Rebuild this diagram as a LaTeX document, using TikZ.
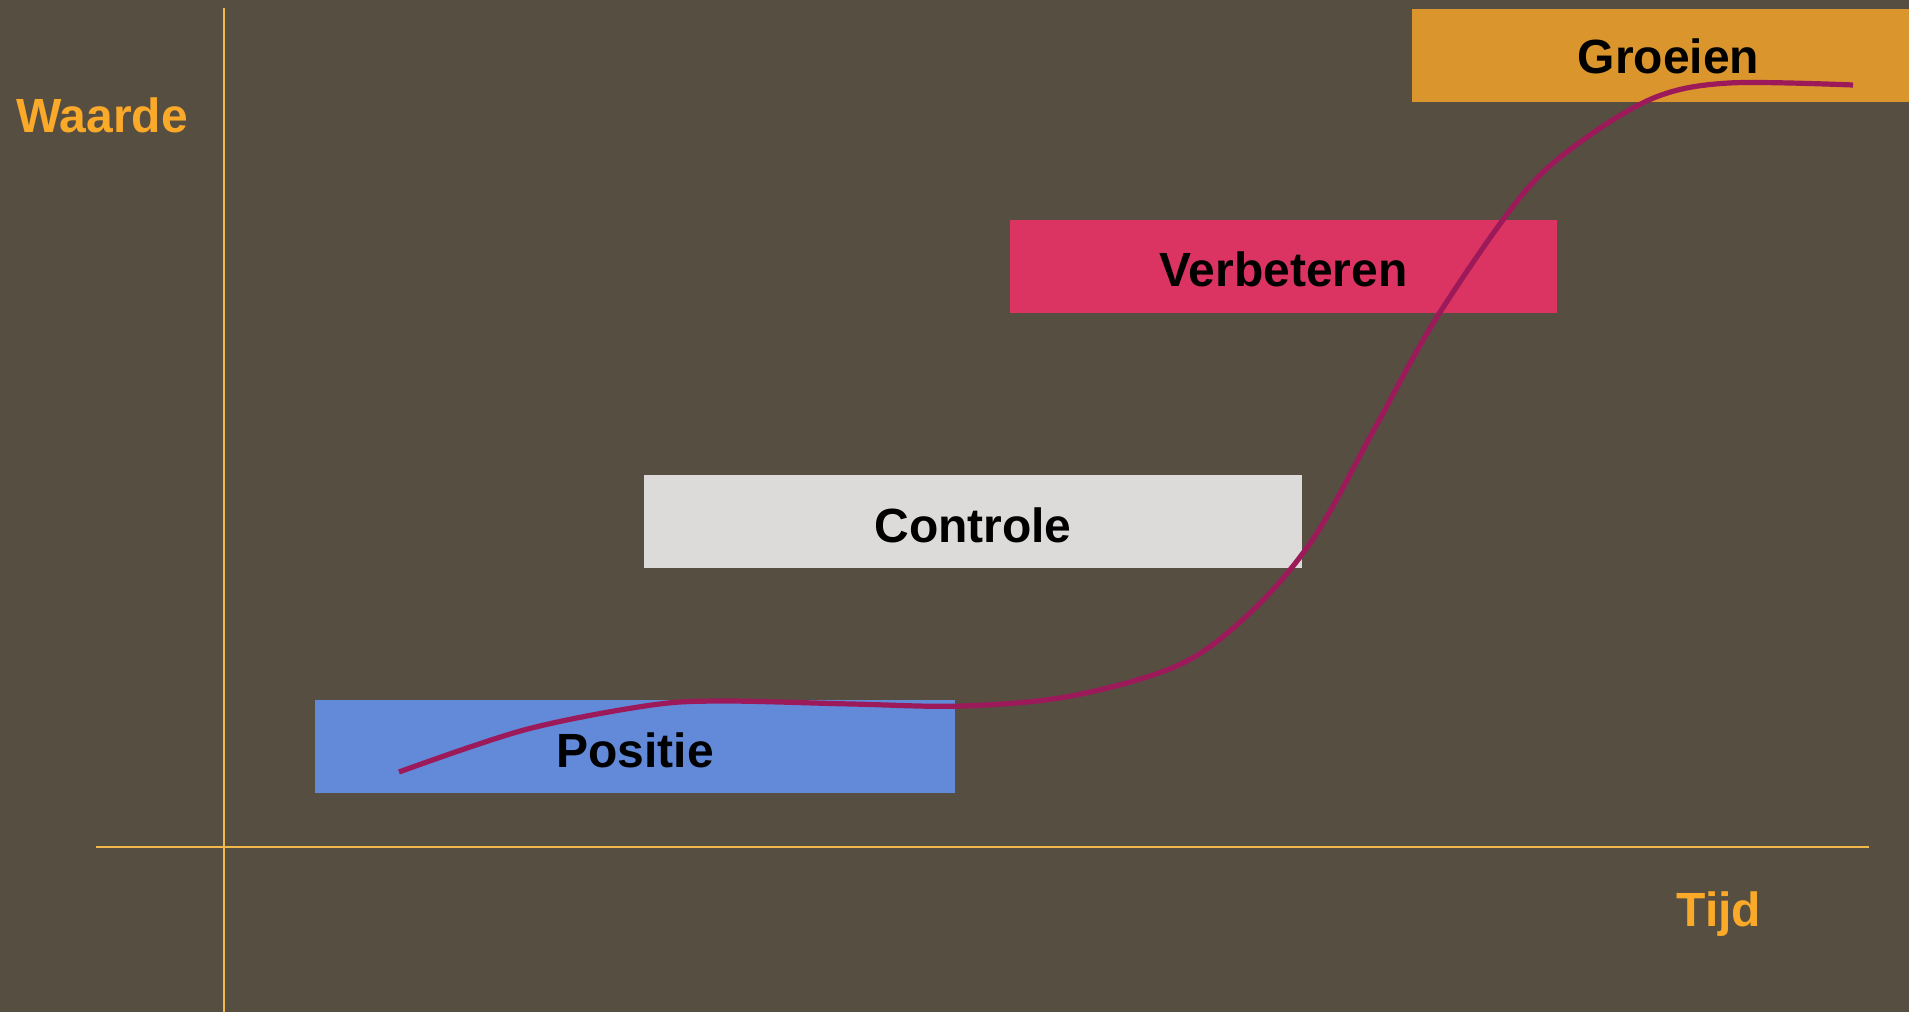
\documentclass[tikz,border=0pt]{standalone}
\usepackage{fontspec}
\setmainfont{Liberation Sans}
\definecolor{bgbrown}{HTML}{574E42}
\definecolor{axisgold}{HTML}{F2B84B}
\definecolor{labelorange}{HTML}{FBA928}
\definecolor{curvemagenta}{HTML}{9C1A5A}
\definecolor{positieblue}{HTML}{6389D9}
\definecolor{controlegrey}{HTML}{DCDBD9}
\definecolor{verbeterenred}{HTML}{DC3462}
\definecolor{groeienorange}{HTML}{DA962C}
\tikzset{
  phase/.style={rectangle, minimum height=46.5pt, inner sep=0pt},
  phasetext/.style={font=\fontsize{24}{28}\selectfont\bfseries, text=black, inner sep=0pt},
  axislabel/.style={font=\fontsize{24}{28}\selectfont\bfseries, text=labelorange}
}
\begin{document}
\begin{tikzpicture}[x=0.5pt,y=-0.5pt]
  \fill[bgbrown] (0,0) rectangle (1909,1012);
  \useasboundingbox (0,0) rectangle (1909,1012);
  % axes
  \draw[axisgold,line width=1pt] (224,8) -- (224,1012);
  \draw[axisgold,line width=1pt] (96,847) -- (1869,847);
  \node[axislabel] (waarde) at (102,115) {Waarde};
  \node[axislabel] (tijd) at (1719,914) {Tijd};
  % phases
  \node[phase, fill=positieblue, minimum width=320pt] (positie) at (635,746) {};
  \node[phase, fill=controlegrey, minimum width=329pt] (controle) at (973,521) {};
  \node[phase, fill=verbeterenred, minimum width=273.5pt] (verbeteren) at (1283.5,266) {};
  \node[phase, fill=groeienorange, minimum width=248.5pt] (groeien) at (1660.5,55) {};
  \node[phasetext] (positietext) at ([yshift=-2pt]positie.center) {Positie};
  \node[phasetext] (controletext) at ([yshift=-2pt]controle.center) {Controle};
  \node[phasetext] (verbeterentext) at ([yshift=-1.5pt]verbeteren.center) {Verbeteren};
  \node[phasetext] (groeientext) at ([xshift=4pt,yshift=-0.5pt]groeien.center) {Groeien};
  % s-curve
  \draw[curvemagenta,line width=2.6pt] plot[smooth,tension=0.55] coordinates {
    (399,772) (524,730) (645,706) (718,701) (852,704) (962,706) (1071,696)
    (1181,664) (1254,609) (1315,536) (1376,426) (1437,317) (1522,195)
    (1583,140) (1656,97) (1729,83) (1853,85)};
\end{tikzpicture}
\end{document}
